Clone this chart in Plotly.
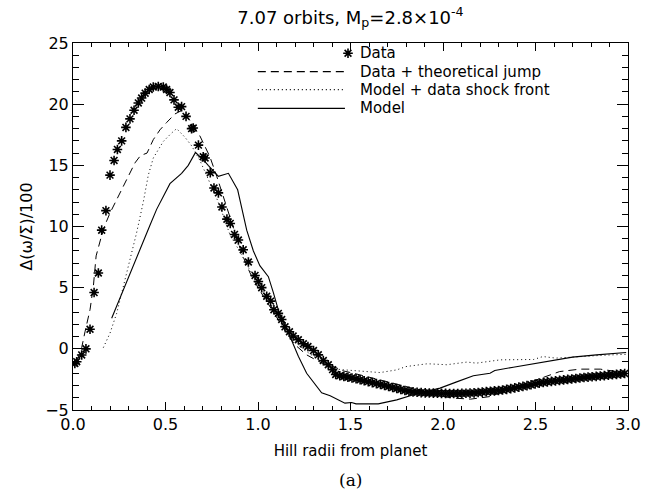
import plotly.graph_objects as go

# ---- series (Hill radii from planet, Delta(omega/Sigma)/100) ----
data_r = [0.01, 0.02, 0.047, 0.07, 0.092, 0.114, 0.137, 0.155, 0.178, 0.2, 0.222, 0.24,
          0.263, 0.286, 0.308, 0.33, 0.353, 0.371, 0.39, 0.412, 0.434, 0.461, 0.488,
          0.506, 0.524, 0.546, 0.569, 0.587, 0.611, 0.641, 0.65, 0.678, 0.704, 0.714,
          0.742, 0.762, 0.786, 0.805, 0.832, 0.85, 0.873, 0.894, 0.92, 0.948, 0.984,
          1.002, 1.02, 1.047, 1.068, 1.086, 1.11, 1.128, 1.146, 1.17, 1.19, 1.218,
          1.245, 1.27, 1.3, 1.326, 1.353, 1.38, 1.403, 1.42,
          1.442, 1.464, 1.486, 1.508, 1.530, 1.552, 1.574, 1.596, 1.618, 1.640,
          1.662, 1.684, 1.706, 1.728, 1.750, 1.772, 1.794, 1.816, 1.838, 1.860,
          1.882, 1.904, 1.926, 1.948, 1.970, 1.992, 2.014, 2.036, 2.058, 2.080,
          2.102, 2.124, 2.146, 2.168, 2.190, 2.212, 2.234, 2.256, 2.278, 2.300,
          2.322, 2.344, 2.366, 2.388, 2.410, 2.432, 2.454, 2.476, 2.498, 2.520,
          2.542, 2.564, 2.586, 2.608, 2.630, 2.652, 2.674, 2.696, 2.718, 2.740,
          2.762, 2.784, 2.806, 2.828, 2.850, 2.872, 2.894, 2.916, 2.938, 2.960, 2.982]
data_v = [-1.2, -1.05, -0.5, 0.0, 1.6, 4.6, 6.2, 9.7, 11.3, 14.2, 15.4, 16.3,
          17.0, 18.1, 18.8, 19.5, 20.1, 20.5, 20.9, 21.2, 21.4, 21.45, 21.4,
          21.2, 20.95, 20.35, 19.75, 19.8, 19.0, 18.0, 18.05, 16.65, 15.7, 15.6,
          14.4, 13.15, 12.75, 11.6, 10.6, 10.25, 9.35, 8.9, 8.1, 7.1, 6.0,
          5.5, 5.0, 4.3, 3.9, 3.2, 2.9, 2.4, 1.8, 1.4, 1.05, 0.74,
          0.41, 0.19, -0.14, -0.49, -0.96, -1.3, -1.7, -2.1,
          -2.20, -2.26, -2.32, -2.38, -2.45, -2.53, -2.61, -2.68, -2.76, -2.84,
          -2.92, -3.00, -3.08, -3.16, -3.24, -3.32, -3.40, -3.47, -3.52, -3.55,
          -3.58, -3.60, -3.61, -3.62, -3.63, -3.64, -3.64, -3.65, -3.65, -3.65,
          -3.64, -3.63, -3.62, -3.60, -3.57, -3.54, -3.50, -3.47, -3.44, -3.41,
          -3.36, -3.31, -3.25, -3.19, -3.13, -3.07, -3.01, -2.94, -2.87, -2.80,
          -2.75, -2.70, -2.66, -2.62, -2.58, -2.54, -2.50, -2.46, -2.42, -2.38,
          -2.34, -2.31, -2.28, -2.25, -2.22, -2.19, -2.16, -2.12, -2.09, -2.05, -2.02]

jump_r = [0.02, 0.047, 0.065, 0.092, 0.11, 0.125, 0.15, 0.175, 0.2, 0.245, 0.29,
          0.335, 0.365, 0.4, 0.434, 0.47, 0.506, 0.551, 0.59, 0.63, 0.686, 0.714,
          0.74, 0.777, 0.812, 0.849, 0.876, 0.912, 0.957, 1.0, 1.05, 1.1, 1.15,
          1.2, 1.263, 1.3, 1.35, 1.416, 1.46, 1.515, 1.6, 1.695, 1.8, 1.9, 1.98,
          2.056, 2.15, 2.254, 2.38, 2.52, 2.63, 2.74, 2.85, 2.94, 2.99]
jump_v = [-1.0, 0.1, 1.4, 3.2, 5.1, 7.6, 9.0, 10.2, 11.1, 12.45, 13.8,
          15.2, 15.8, 16.0, 17.1, 17.9, 18.5, 19.2, 19.5, 18.7, 17.4, 16.5,
          15.7, 14.1, 12.45, 10.8, 9.45, 7.8, 6.2, 5.0, 3.8, 2.6, 1.4,
          0.33, -0.49, -0.8, -1.2, -1.5, -1.8, -1.99, -2.3, -2.67, -3.08, -3.5, -3.85,
          -4.03, -4.11, -3.9, -3.21, -2.4, -1.86, -1.66, -1.66, -1.86, -2.0]

shock_r = [0.164, 0.2, 0.236, 0.272, 0.308, 0.344, 0.38, 0.407, 0.434, 0.488, 0.53,
           0.56, 0.605, 0.641, 0.686, 0.74, 0.777, 0.812, 0.849, 0.9, 0.95, 1.0,
           1.05, 1.1, 1.15, 1.2, 1.25, 1.3, 1.35, 1.4, 1.45, 1.5, 1.58, 1.66, 1.75,
           1.8, 1.91, 1.93, 2.02, 2.13, 2.18, 2.31, 2.49, 2.54, 2.61, 2.74, 2.87, 2.99]
shock_v = [0.1, 1.28, 2.9, 5.1, 7.3, 9.5, 12.0, 14.2, 15.6, 16.95, 17.6,
           18.0, 17.3, 16.6, 15.4, 13.5, 12.3, 10.9, 9.3, 8.0, 6.6, 5.4,
           4.2, 2.9, 1.6, 0.6, -0.1, -0.6, -1.1, -1.6, -1.7, -1.75, -1.85, -1.94, -1.72,
           -1.45, -1.23, -1.23, -1.3, -1.08, -1.17, -0.9, -0.87, -0.63, -0.76, -0.62, -0.52, -0.45]

model_r = [0.209, 0.308, 0.38, 0.416, 0.452, 0.524, 0.587, 0.623, 0.662, 0.705, 0.731,
           0.786, 0.84, 0.89, 0.939, 0.975, 1.01, 1.056, 1.083, 1.119, 1.173, 1.218,
           1.263, 1.317, 1.344, 1.39, 1.47, 1.506, 1.53, 1.65, 1.75, 1.84, 1.95, 1.984,
           2.074, 2.164, 2.254, 2.28, 2.38, 2.45, 2.52, 2.6, 2.7, 2.83, 2.99]
model_v = [2.5, 6.2, 8.9, 10.1, 11.4, 13.5, 14.35, 15.0, 16.05, 15.45, 15.0,
           14.1, 14.35, 13.0, 9.7, 8.0, 6.8, 5.9, 4.6, 2.7, 1.0, -0.6,
           -2.0, -3.1, -3.6, -3.84, -4.44, -4.39, -4.5, -4.5, -4.17, -3.76, -3.35, -3.21,
           -2.7, -2.2, -1.99, -1.77, -1.5, -1.31, -1.17, -0.9, -0.68, -0.49, -0.3]

legend_labels = ["Data", "Data + theoretical jump", "Model + data shock front", "Model"]

TICK_FONT = dict(family="DejaVu Sans", size=16, color="black")
INK = "black"
STAR = dict(symbol="asterisk-open", size=8, color=INK, line=dict(color=INK, width=1.6))

fig = go.Figure()

fig.add_trace(go.Scatter(x=jump_r, y=jump_v, mode="lines",
                         line=dict(color=INK, width=1, dash="8px,5px"), showlegend=False))
fig.add_trace(go.Scatter(x=shock_r, y=shock_v, mode="lines",
                         line=dict(color=INK, width=1, dash="1px,3px"), showlegend=False))
fig.add_trace(go.Scatter(x=model_r, y=model_v, mode="lines",
                         line=dict(color=INK, width=1.1), showlegend=False))
fig.add_trace(go.Scatter(x=data_r, y=data_v, mode="markers", marker=STAR,
                         showlegend=False))

# hand-placed key in the upper part of the panel (overlay axes in unit coordinates)
key_x0, key_x1, key_txt = 0.333, 0.490, 0.513
key_y = [0.972, 0.922, 0.873, 0.822]
fig.add_trace(go.Scatter(x=[0.4955], y=[key_y[0]], mode="markers", xaxis="x2", yaxis="y2",
                         marker=STAR, showlegend=False, hoverinfo="skip"))
for dash, yk in zip(["8px,5px", "1px,3px", "solid"], key_y[1:]):
    fig.add_trace(go.Scatter(x=[key_x0, key_x1], y=[yk, yk], mode="lines",
                             xaxis="x2", yaxis="y2",
                             line=dict(color=INK, width=1.1, dash=dash),
                             showlegend=False, hoverinfo="skip"))
for label, yk in zip(legend_labels, key_y):
    fig.add_annotation(x=key_txt, y=yk, xref="x2", yref="y2", text=label, showarrow=False,
                       xanchor="left", yanchor="middle",
                       font=dict(family="DejaVu Sans", size=15, color=INK))

axis_common = dict(showline=True, linecolor=INK, linewidth=1, mirror="allticks",
                   ticks="inside", tickcolor=INK, tickwidth=1, showgrid=False,
                   zeroline=False, tickfont=TICK_FONT)

fig.update_layout(
    width=665, height=497,
    margin=dict(l=73, r=37, t=43, b=87),
    paper_bgcolor="white", plot_bgcolor="white",
    title=dict(text="7.07 orbits, M<sub>p</sub>=2.8×10<sup>-4</sup>",
               x=0.527, xanchor="center", y=0.965, yanchor="middle",
               font=dict(family="DejaVu Sans", size=18, color=INK)),
    xaxis=dict(range=[0, 3], dtick=0.5, tick0=0, tickformat=".1f", ticklen=8,
               minor=dict(dtick=0.1, ticks="inside", ticklen=4, tickcolor=INK),
               title=dict(text="Hill radii from planet", standoff=12,
                          font=dict(family="DejaVu Sans", size=15, color=INK)),
               **axis_common),
    yaxis=dict(range=[-5, 25], dtick=5, tick0=0, ticklen=11,
               minor=dict(dtick=1, ticks="inside", ticklen=6, tickcolor=INK),
               title=dict(text="Δ(ω/Σ)/100", standoff=8,
                          font=dict(family="DejaVu Sans", size=16, color=INK)),
               **axis_common),
    xaxis2=dict(range=[0, 1], overlaying="x", visible=False),
    yaxis2=dict(range=[0, 1], overlaying="y", visible=False),
)

fig.add_annotation(x=0.5, y=-0.19, xref="paper", yref="paper", text="(a)", showarrow=False,
                   xanchor="center", yanchor="middle",
                   font=dict(family="DejaVu Serif", size=17, color=INK))

fig.write_html("out.html")
